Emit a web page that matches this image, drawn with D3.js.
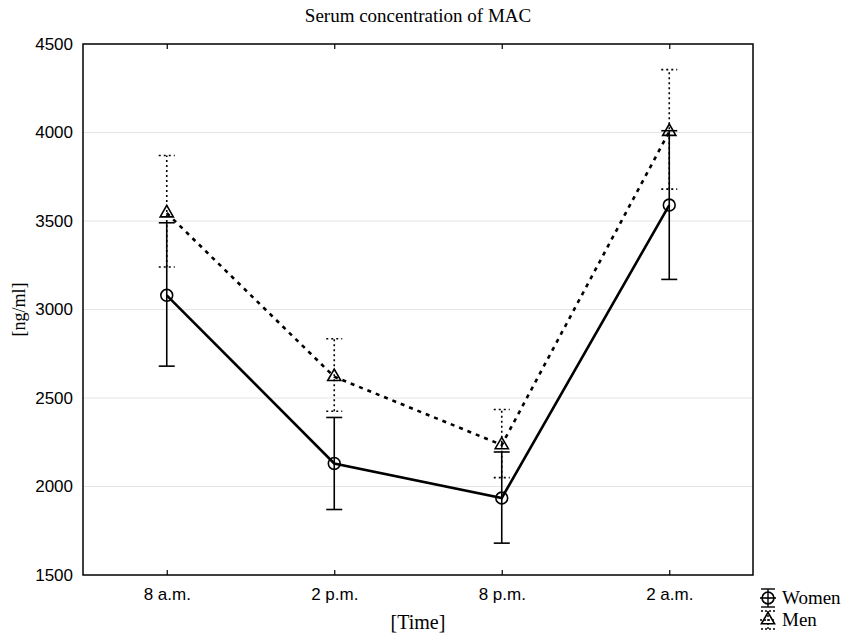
<!DOCTYPE html>
<html>
<head>
<meta charset="utf-8">
<script src="https://cdn.jsdelivr.net/npm/d3@7"></script>
<style>
  body { margin: 0; background: #fff; }
  svg { display: block; }
</style>
</head>
<body>
<svg id="chart" width="843" height="634"></svg>
<script>
// data
const times = ['8 a.m.', '2 p.m.', '8 p.m.', '2 a.m.'];
const yTicks = [1500, 2000, 2500, 3000, 3500, 4000, 4500];
const womenMean = [3080, 2130, 1935, 3590];
const womenLow = [2680, 1870, 1680, 3170];
const womenHigh = [3490, 2390, 2195, 4010];
const menMean = [3545, 2620, 2235, 4005];
const menLow = [3240, 2425, 2050, 3680];
const menHigh = [3870, 2835, 2435, 4355];

const margin = { top: 44, right: 90, bottom: 59, left: 83 };
const svg = d3.select('#chart');
const width = 843 - margin.left - margin.right;
const height = 634 - margin.top - margin.bottom;

const sans = 'Liberation Sans, Arial, sans-serif';
const serif = 'Liberation Serif, Times New Roman, serif';

const g = svg.append('g')
  .attr('transform', `translate(${margin.left},${margin.top})`);

const x = d3.scalePoint().domain(times).range([0, width]).padding(0.5);
const y = d3.scaleLinear().domain([1500, 4500]).range([height, 0]);

// grid lines
g.append('g')
  .selectAll('line')
  .data(yTicks.slice(1, -1))
  .enter().append('line')
  .attr('x1', 0).attr('x2', width)
  .attr('y1', d => y(d)).attr('y2', d => y(d))
  .attr('stroke', '#e4e4e4').attr('stroke-width', 1);

// axes
const yAxis = g.append('g')
  .call(d3.axisLeft(y).tickValues(yTicks).tickFormat(d3.format('d')).tickSize(0).tickPadding(10));
yAxis.select('.domain').remove();
yAxis.selectAll('text')
  .attr('font-family', sans)
  .attr('font-size', 17).attr('fill', '#000');

const xAxis = g.append('g')
  .attr('transform', `translate(0,${height})`)
  .call(d3.axisBottom(x).tickSizeInner(-5).tickSizeOuter(0).tickPadding(13));
xAxis.select('.domain').remove();
xAxis.selectAll('line').attr('stroke', '#000').attr('stroke-width', 1.2);
xAxis.selectAll('text')
  .attr('font-family', sans)
  .attr('font-size', 17).attr('fill', '#000');

const xTop = g.append('g')
  .call(d3.axisTop(x).tickSizeInner(-5).tickSizeOuter(0).tickFormat(''));
xTop.select('.domain').remove();
xTop.selectAll('line').attr('stroke', '#000').attr('stroke-width', 1.2);

// frame
g.append('rect')
  .attr('width', width).attr('height', height)
  .attr('fill', 'none').attr('stroke', '#000').attr('stroke-width', 1.5);

const line = d3.line().x((d, i) => x(times[i])).y(d => y(d));
const capW = 8;

function drawSeries(mean, low, high, dash, lineDash, marker) {
  const s = g.append('g');
  // error bars
  times.forEach((t, i) => {
    const eb = s.append('g')
      .attr('stroke', '#000').attr('stroke-width', 1.6)
      .attr('stroke-dasharray', dash);
    eb.append('line')
      .attr('x1', x(t)).attr('x2', x(t))
      .attr('y1', y(low[i])).attr('y2', y(high[i]));
    [low[i], high[i]].forEach(v => {
      eb.append('line')
        .attr('x1', x(t) - capW).attr('x2', x(t) + capW)
        .attr('y1', y(v)).attr('y2', y(v));
    });
  });
  s.append('path')
    .datum(mean)
    .attr('d', line)
    .attr('fill', 'none').attr('stroke', '#000').attr('stroke-width', 2.6)
    .attr('stroke-dasharray', lineDash);
  s.selectAll('.m')
    .data(mean)
    .enter().append('path')
    .attr('transform', (d, i) => `translate(${x(times[i])},${y(d)})`)
    .attr('d', marker)
    .attr('fill', 'none').attr('stroke', '#000').attr('stroke-width', 1.6);
}

const circleSym = d3.symbol().type(d3.symbolCircle).size(110)();
const triSym = d3.symbol().type(d3.symbolTriangle).size(75)();

drawSeries(womenMean, womenLow, womenHigh, null, null, circleSym);
drawSeries(menMean, menLow, menHigh, '2,3', '4,5', triSym);

// title and labels
svg.append('text')
  .attr('x', margin.left + width / 2).attr('y', 22)
  .attr('text-anchor', 'middle')
  .attr('font-family', serif)
  .attr('font-size', 19)
  .text('Serum concentration of MAC');

svg.append('text')
  .attr('x', margin.left + width / 2).attr('y', 629)
  .attr('text-anchor', 'middle')
  .attr('font-family', serif)
  .attr('font-size', 20)
  .text('[Time]');

svg.append('text')
  .attr('transform', `translate(25,${margin.top + height / 2}) rotate(-90)`)
  .attr('text-anchor', 'middle')
  .attr('font-family', serif)
  .attr('font-size', 18)
  .text('[ng/ml]');

// legend
const legendItems = [
  { name: 'Women', dash: null, marker: circleSym },
  { name: 'Men', dash: '2,2', marker: triSym }
];
const legend = svg.append('g')
  .attr('transform', 'translate(768,598)');
legendItems.forEach((item, i) => {
  const lg = legend.append('g').attr('transform', `translate(0,${i * 22})`);
  const eb = lg.append('g')
    .attr('stroke', '#000').attr('stroke-width', 1.4)
    .attr('stroke-dasharray', item.dash);
  eb.append('line').attr('x1', 0).attr('x2', 0).attr('y1', -9).attr('y2', 9);
  eb.append('line').attr('x1', -7).attr('x2', 7).attr('y1', -9).attr('y2', -9);
  eb.append('line').attr('x1', -7).attr('x2', 7).attr('y1', 9).attr('y2', 9);
  lg.append('line')
    .attr('x1', -8).attr('x2', 8)
    .attr('stroke', '#000').attr('stroke-width', 1.6)
    .attr('stroke-dasharray', item.dash);
  lg.append('path')
    .attr('d', item.marker)
    .attr('fill', 'none').attr('stroke', '#000').attr('stroke-width', 1.6);
  lg.append('text')
    .attr('x', 14).attr('y', 6)
    .attr('font-family', serif)
    .attr('font-size', 19)
    .text(item.name);
});
</script>
</body>
</html>
